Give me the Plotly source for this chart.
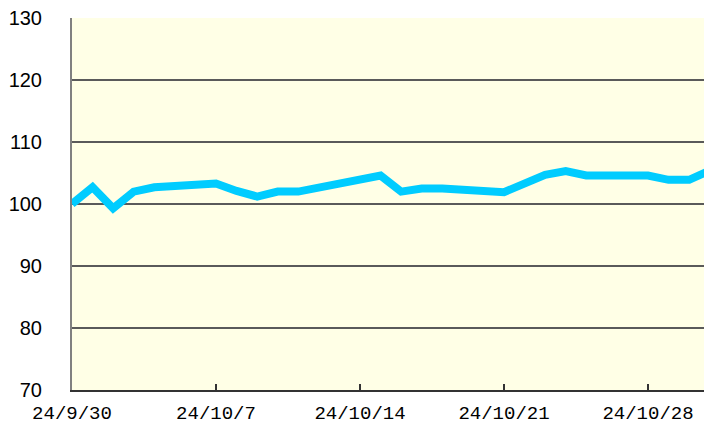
import plotly.graph_objects as go
import pandas as pd

dates = ["2024-09-30", "2024-10-01", "2024-10-02", "2024-10-03", "2024-10-04",
         "2024-10-07", "2024-10-08", "2024-10-09", "2024-10-10", "2024-10-11",
         "2024-10-15", "2024-10-16", "2024-10-17", "2024-10-18",
         "2024-10-21", "2024-10-22", "2024-10-23", "2024-10-24", "2024-10-25",
         "2024-10-28", "2024-10-29", "2024-10-30", "2024-10-31"]
values = [100.0, 102.7, 99.3, 102.0, 102.7,
          103.3, 102.1, 101.2, 102.0, 102.0,
          104.6, 102.0, 102.5, 102.5,
          101.9, 103.3, 104.7, 105.3, 104.6,
          104.6, 103.9, 103.9, 105.4]

tick_vals = ["2024-09-30", "2024-10-07", "2024-10-14", "2024-10-21", "2024-10-28"]
tick_text = ["24/9/30", "24/10/7", "24/10/14", "24/10/21", "24/10/28"]
y_ticks = [70, 80, 90, 100, 110, 120, 130]

fig = go.Figure()
fig.add_trace(go.Scatter(
    x=pd.to_datetime(dates), y=values, mode="lines",
    line=dict(color="#00CCFF", width=8), hoverinfo="skip", showlegend=False,
))

x_end = pd.Timestamp("2024-09-30") + pd.Timedelta(days=(704 - 72) / (144 / 7))

fig.update_layout(
    width=704, height=425,
    margin=dict(l=72, r=0, t=18, b=35, autoexpand=False),
    paper_bgcolor="white",
    plot_bgcolor="#FFFFE6",
    xaxis=dict(
        type="date", automargin=False,
        range=[pd.Timestamp("2024-09-30"), x_end],
        tickvals=pd.to_datetime(tick_vals), ticktext=tick_text,
        ticks="inside", ticklen=6, tickwidth=1.5, tickcolor="#333333",
        showgrid=False, zeroline=False,
        showline=True, linecolor="#333333", linewidth=2,
        tickfont=dict(family="Liberation Mono", size=19, color="black"),
        ticklabelstandoff=4,
    ),
    yaxis=dict(
        range=[70, 130], tickvals=y_ticks, automargin=False,
        ticks="", showgrid=True, gridcolor="#5a5a5a", gridwidth=1.5,
        zeroline=False, showline=True, linecolor="#808080", linewidth=2,
        tickfont=dict(family="Liberation Sans", size=20, color="black"),
        ticklabelstandoff=24,
    ),
)

fig.write_html(
    "out.html",
    config={"displayModeBar": False},
    post_script="document.body.style.margin='0';document.body.style.padding='0';document.body.style.overflow='hidden';",
)
